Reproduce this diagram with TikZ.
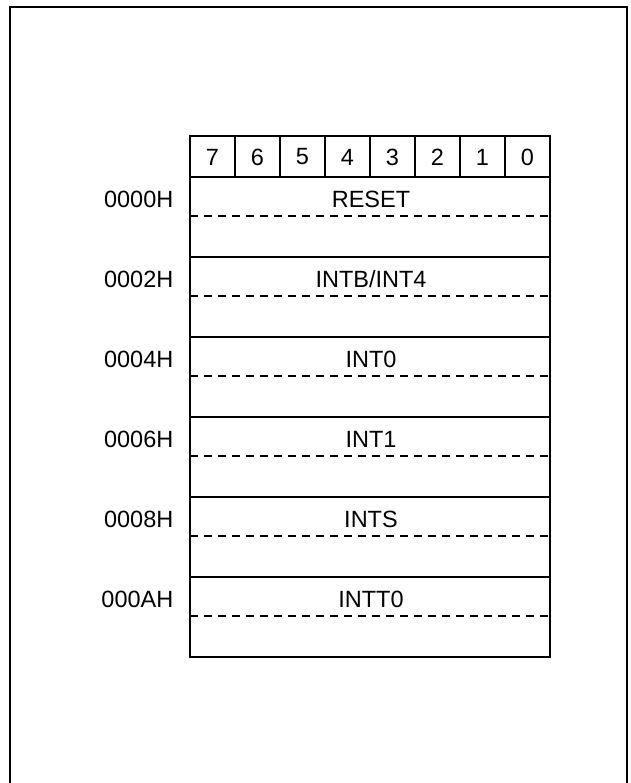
\documentclass[tikz,border=0pt]{standalone}
\usepackage{fontspec}
\setmainfont{Liberation Sans}
\begin{document}
\begin{tikzpicture}[x=1pt,y=-1pt,
  frameline/.style={line width=2.8pt},
  cellline/.style={line width=1.6pt},
  dashline/.style={line width=1.4pt,dash pattern=on 8pt off 6pt},
  lbl/.style={font=\fontsize{23.5}{25}\selectfont,inner sep=0pt},
  addr/.style={lbl,anchor=east}]
\useasboundingbox (0,0) rectangle (630,783);
% outer frame (open at bottom)
\draw[frameline] (10,790) -- (10,7) -- (627,7) -- (627,790);
% header row
\foreach \i [count=\k from 0] in {7,6,5,4,3,2,1,0} {
  \node[lbl] (b\i) at (212.5+45*\k,157) {\i};
}
\draw[cellline] (190,136) rectangle (550,177);
\foreach \k in {1,...,7} {\draw[cellline] (190+45*\k,136) -- (190+45*\k,177);}
% rows
\foreach \a/\t [count=\r from 0] in {0000H/RESET,0002H/INTB\slash INT4,0004H/INT0,0006H/INT1,0008H/INTS,000AH/INTT0} {
  \draw[cellline] (190,177+80*\r) rectangle (550,257+80*\r);
  \draw[dashline] (190,216+80*\r) -- (550,216+80*\r);
  \node[lbl] (v\r) at (371,199+80*\r) {\t};
  \node[addr] (a\r) at (173.5,199+80*\r) {\a};
}
\end{tikzpicture}
\end{document}
